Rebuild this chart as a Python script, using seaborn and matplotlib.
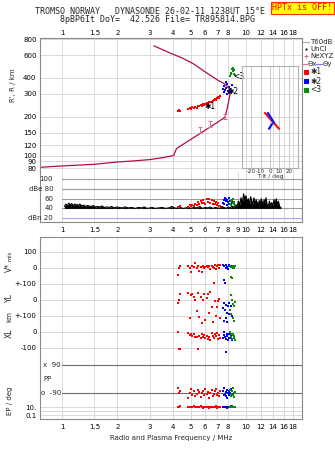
import matplotlib
matplotlib.use("Agg")
import matplotlib.pyplot as plt
from matplotlib.lines import Line2D
import numpy as np
import pandas as pd
import seaborn as sns

# ---------------- header ----------------
title_line1 = "TROMSO NORWAY   DYNASONDE 26-02-11 1238UT 15°E"
title_line2 = "8pBP6It DoY=  42.526 File= TR895814.BPG"
warning_text = "HPTx is OFF!"

# ---------------- axes ticks ----------------
freq_ticks = [1, 1.5, 2, 3, 4, 5, 6, 7, 8, 10, 12, 14, 16, 18]
freq_ticks_mid = [1, 1.5, 2, 3, 4, 5, 6, 7, 8, 9, 10, 12, 14, 16, 18]
height_ticks = [80, 90, 100, 120, 150, 200, 300, 400, 600, 800]
db_ticks = [100, 80, 60, 40, 20]
db_labels = ["100", "dBe 80", "60", "40", "dBn 20"]
tilt_ticks = [-20, -10, 0, 10, 20]
band_tick_labels = ["100", "0", "+-100", "0", "+-100", "0", "-100", "10.", "0.1"]

# ---------------- electron density profile (plasma freq vs real height) ----------------
prof_f = [0.76, 1.0, 1.5, 2.0, 2.5, 3.0, 3.5, 4.05, 4.12, 4.2, 5.0, 6.0, 7.0, 7.69,
          7.95, 8.12, 8.2, 8.12, 7.69, 7.0, 6.0, 5.17, 4.5, 3.86, 3.41, 3.16]
prof_h = [81, 83, 85.5, 89, 91, 93, 96, 100, 107, 113.5, 133, 157, 181, 198,
          240, 280, 300, 328, 358, 385, 445, 515, 570, 624, 675, 709]
nexyz_f = [5.62, 6.37, 7.69]
nexyz_h = [158, 175, 201]

# ---------------- tilt inset ----------------
tilt_x_deg = [-5.4, 9.7]
tilt_x_h = [209, 157]
tilt_y_deg = [-2.2, 4.3]
tilt_y_h = [209, 175]
tilt_y2_deg = [-1.1, 2.2]
tilt_y2_h = [157, 171]

# ---------------- noise / echo amplitude trace ----------------
noise_f = [1.03, 1.05, 1.07, 1.09, 1.11, 1.13, 1.15, 1.17, 1.19, 1.21,
           1.23, 1.25, 1.28, 1.31, 1.34, 1.37, 1.40, 1.44, 1.48, 1.52,
           1.56, 1.60, 1.65, 1.70, 1.75, 1.80, 1.86, 1.92, 1.98, 2.05,
           2.12, 2.20, 2.30, 2.40, 2.50, 2.60, 2.70, 2.80, 2.90, 3.00,
           3.10, 3.20, 3.35, 3.50, 3.65, 3.80, 3.95, 4.10, 4.25, 4.40,
           4.55, 4.70, 4.85, 5.00, 5.20, 5.40, 5.60, 5.80, 6.00, 6.20,
           6.40, 6.60, 6.80, 7.00, 7.20, 7.40, 7.60, 7.80, 8.00, 8.20,
           8.40, 8.60, 8.80, 8.95, 9.10, 9.25, 9.40, 9.55, 9.70, 9.85,
           10.0, 10.15, 10.3, 10.45, 10.6, 10.75, 10.9, 11.05, 11.2, 11.35,
           11.5, 11.65, 11.8, 11.95, 12.1, 12.25, 12.4, 12.55, 12.7, 12.85,
           13.0, 13.2, 13.4, 13.6, 13.8, 14.0, 14.2, 14.4, 14.6, 14.8,
           15.0, 15.2, 15.5]
noise_db = [44, 49, 46, 51, 47, 50, 45, 49, 47, 48,
            46, 49, 45, 47, 44, 46, 45, 44, 46, 43,
            44, 43, 45, 42, 43, 42, 44, 41, 43, 42,
            41, 43, 41, 42, 40, 42, 41, 43, 40, 41,
            42, 40, 41, 42, 40, 41, 44, 41, 40, 42,
            40, 41, 43, 40, 42, 41, 44, 40, 42, 41,
            43, 40, 42, 41, 40, 44, 42, 40, 43, 41,
            45, 42, 48, 44, 55, 47, 62, 50, 70, 58,
            66, 52, 60, 48, 64, 55, 50, 62, 47, 58,
            52, 45, 56, 49, 60, 53, 46, 58, 50, 62,
            48, 44, 55, 47, 52, 45, 58, 48, 60, 46,
            55, 44, 42]

# ---------------- echo clusters ----------------
c1_f = [4.25, 4.30, 4.38, 4.85, 4.95, 5.05, 5.12, 5.20, 5.30, 5.40,
        5.50, 5.58, 5.66, 5.75, 5.85, 5.93, 6.02, 6.11, 6.20, 6.30,
        6.40, 6.50, 6.60, 6.70, 6.80, 6.90, 7.00, 7.08, 7.15, 7.22]
c1_h = [221, 224, 222, 230, 233, 229, 236, 232, 238, 235,
        243, 240, 246, 242, 250, 247, 252, 256, 250, 259,
        262, 258, 266, 270, 274, 268, 280, 284, 278, 290]
c1_db = [42, 43, 44, 43, 46, 44, 48, 45, 50, 47,
         53, 50, 55, 51, 57, 52, 49, 59, 54, 60,
         52, 57, 50, 55, 49, 53, 47, 51, 45, 44]
c1_v = [-42, 0, 12, 14, 0, -22, 12, 4, 33, 0,
        14, -20, 4, -22, 10, 0, 6, 12, 4, 12,
        -8, 14, 8, 2, 18, -4, 12, 20, 0, 16]
c1_yl = [-18, 0, 37, 45, -110, 31, 38, 17, 0, -67,
         42, -104, 19, -146, 0, 35, -125, 13, 38, -80,
         52, -42, -140, 104, -8, -100, -42, -8, 6, -110]
c1_xl = [2, -106, -106, -6, -19, -12, -25, -15, -30, -30,
         -106, -25, -40, -10, -30, -20, -35, -25, -45, -30,
         -50, -5, -25, -40, -12, -28, -8, -45, -20, -35]
c1_pp = [-60, -90, -75, -120, -88, -65, -100, -80, -110, -95,
         -70, -85, -115, -92, -78, -105, -62, -98, -84, -120,
         -90, -72, -108, -94, -80, -66, -102, -88, -112, -76]
c1_ep = [12, 10, 14, 11, 9, 13, 10, 15, 8, 12,
         11, 9, 14, 10, 7, 12, 11, 9, 13, 6,
         10, 12, 8, 11, 9, 14, 7, 10, 12, 8]

c2_f = [7.52, 7.58, 7.63, 7.68, 7.74, 7.80, 7.86, 7.92, 7.98, 8.04, 8.10, 8.18, 8.28, 8.40]
c2_h = [330, 312, 345, 322, 370, 336, 302, 360, 318, 342, 306, 330, 312, 352]
c2_db = [52, 58, 50, 62, 55, 60, 48, 57, 53, 61, 50, 56, 49, 54]
c2_v = [20, -75, 14, -96, 2, 16, 4, 8, -4, 18, 10, 12, 6, 14]
c2_yl = [-50, -20, -130, -65, -30, -110, -80, -140, -40, -20, -85, -60, -35, -100]
c2_xl = [-40, -20, 0, -30, -45, -125, -25, -10, -50, -35, -15, -40, -28, -50]
c2_pp = [-80, -100, -60, -95, -110, -85, -70, -120, -90, -75, -105, -88, -65, -98]
c2_ep = [10, 12, 8, 11, 9, 13, 10, 7, 12, 11, 9, 10, 14, 8]

c3_f = [8.22, 8.28, 8.34, 8.40, 8.46, 8.52, 8.58, 8.64, 8.70]
c3_h = [410, 440, 425, 470, 450, 480, 430, 460, 420]
c3_db = [50, 56, 47, 58, 52, 60, 49, 54, 46]
c3_v = [12, -54, 4, -65, 14, 0, 8, -2, 10]
c3_yl = [-60, 30, -90, 0, -25, -110, -40, -130, -15]
c3_xl = [0, -15, -30, -45, -20, -10, -38, -25, -50]
c3_pp = [-70, -95, -110, -80, -100, -60, -90, -115, -85]
c3_ep = [9, 12, 10, 14, 8, 11, 13, 10, 12]

cluster_names = ["\u27311", "\u27312", "<3"]
cluster_colors = ["#ff0000", "#0000ff", "#0a8a0a"]

clusters = []
for f, h, db, v, yl, xl, pp, ep in [
        (c1_f, c1_h, c1_db, c1_v, c1_yl, c1_xl, c1_pp, c1_ep),
        (c2_f, c2_h, c2_db, c2_v, c2_yl, c2_xl, c2_pp, c2_ep),
        (c3_f, c3_h, c3_db, c3_v, c3_yl, c3_xl, c3_pp, c3_ep)]:
    clusters.append(pd.DataFrame(dict(f=f, h=h, db=db, v=v, yl=yl, xl=xl, pp=pp, ep=ep)))

# ---------------- styling ----------------
sns.set_theme(style="white")
plt.rcParams["font.family"] = ["DejaVu Sans"]

W, H = 335, 451
fig = plt.figure(figsize=(W / 100, H / 100), dpi=100)
fig.patch.set_facecolor("white")

FRAME = "#8a8a8a"
GRID = "#d9d9d9"
PROFILE = "#b0103e"
PINK = "#e8709a"
F_LO, F_HI = 0.7593, 20.16
TS = 5


def rect(x0, y0, x1, y1):
    return [x0 / W, 1 - y1 / H, (x1 - x0) / W, (y1 - y0) / H]


def fpt(x, y):
    return x / W, 1 - y / H


def style_frame(ax, hide=()):
    for name, sp in ax.spines.items():
        sp.set_color(FRAME)
        sp.set_linewidth(0.8)
        sp.set_visible(name not in hide)
    ax.set_facecolor("none")
    ax.tick_params(length=0, labelsize=TS, colors="black")


def freq_axis(ax, ticks):
    ax.set_xscale("log")
    ax.set_xlim(F_LO, F_HI)
    ax.set_xticks(ticks)
    ax.set_xticklabels([("%g" % t) for t in ticks])
    ax.minorticks_off()


# ================= top panel: virtual / real heights =================
ax_h = fig.add_axes(rect(40, 38, 302, 172))
style_frame(ax_h, hide=("bottom",))
freq_axis(ax_h, freq_ticks)
ax_h.set_yscale("log")
ax_h.set_ylim(74.5, 815)
ax_h.set_yticks(height_ticks)
ax_h.set_yticklabels([str(v) for v in height_ticks])
ax_h.minorticks_off()
ax_h.xaxis.tick_top()
ax_h.tick_params(axis="x", pad=1.5)
ax_h.tick_params(axis="y", pad=2.5)
ax_h.grid(True, color=GRID, lw=0.7)
ax_h.set_axisbelow(True)
ax_h.set_xlabel("")
ax_h.set_ylabel("")

sns.lineplot(x=prof_f, y=prof_h, sort=False, estimator=None, color=PROFILE,
             lw=0.9, ax=ax_h)
nexyz_err = [[h * 0.05 for h in nexyz_h], [h * 0.05 for h in nexyz_h]]
ax_h.errorbar(nexyz_f, nexyz_h, yerr=nexyz_err, fmt="none", ecolor=PINK,
              elinewidth=0.8, capsize=1.5, capthick=0.8)
for df, col in zip(clusters, cluster_colors):
    sns.scatterplot(data=df, x="f", y="h", color=col, marker="s", s=4,
                    linewidth=0, ax=ax_h, legend=False)
ax_h.set_xlabel("")
ax_h.set_ylabel("")
label_pos = [(5.98, 241), (7.9, 314), (8.5, 410)]
for (lx, ly), name in zip(label_pos, cluster_names):
    ax_h.text(lx, ly, name, fontsize=5.5, ha="left", va="center", color="black")

fig.text(*fpt(13, 85), "R', R / km", rotation=90, ha="center", va="center", fontsize=TS)

# ---- tilt inset ----
ax_t = fig.add_axes(rect(242, 66, 298, 168))
for sp in ax_t.spines.values():
    sp.set_color("#b0b0b0")
    sp.set_linewidth(0.8)
ax_t.set_facecolor("none")
ax_t.set_xlim(-30, 30)
ax_t.set_yscale("log")
ax_t.set_ylim(77.1, 490)
ax_t.set_xticks(tilt_ticks)
ax_t.set_xticklabels([str(t) for t in tilt_ticks])
ax_t.set_yticks([])
ax_t.minorticks_off()
ax_t.tick_params(length=0, labelsize=4, pad=0.5)
ax_t.grid(axis="x", color="#c8c8c8", lw=0.7)
sns.lineplot(x=tilt_x_deg, y=tilt_x_h, sort=False, estimator=None,
             color="#ff1010", lw=1.6, ax=ax_t)
sns.lineplot(x=tilt_y_deg, y=tilt_y_h, sort=False, estimator=None,
             color="#1010ff", lw=1.6, ax=ax_t)
sns.lineplot(x=tilt_y2_deg, y=tilt_y2_h, sort=False, estimator=None,
             color="#1010ff", lw=1.6, ax=ax_t)
ax_t.set_ylabel("")
ax_t.set_xlabel("Tilt / deg", fontsize=4.3, labelpad=0)

# ---- legend column ----
def leg_line(x0, x1, y, color):
    fig.add_artist(Line2D([x0 / W, x1 / W], [1 - y / H, 1 - y / H], color=color, lw=0.9))


def leg_mark(x, y, marker, color, ms):
    fig.add_artist(Line2D([x / W], [1 - y / H], marker=marker, color=color,
                          ms=ms, mew=0.8, lw=0))


leg_line(303, 309, 42, "#b0b0b0")
fig.text(*fpt(310, 42), "T60dB", fontsize=TS, va="center")
leg_mark(306, 49, ".", "black", 1.5)
fig.text(*fpt(310, 49), "UnCl", fontsize=TS, va="center")
leg_mark(306, 56, "+", PINK, 3.5)
fig.text(*fpt(310, 56), "NeXYZ", fontsize=TS, va="center")
leg_line(302, 307, 64, PINK)
fig.text(*fpt(307.5, 64), "\u0398x", fontsize=TS, va="center")
leg_line(316, 322, 64, "#7070ff")
fig.text(*fpt(322.5, 64), "\u0398y", fontsize=TS, va="center")
for i, (name, col) in enumerate(zip(cluster_names, cluster_colors)):
    yy = 72 + 9 * i
    leg_mark(306, yy, "s", col, 2.2)
    fig.text(*fpt(310, yy), name, fontsize=5.5, va="center")

# ================= middle panel: amplitudes =================
ax_a = fig.add_axes(rect(40, 172, 302, 222))
style_frame(ax_a, hide=("top",))
freq_axis(ax_a, freq_ticks_mid)
ax_a.set_ylim(12.1, 114.8)
ax_a.set_yticks([])
ax_a.tick_params(axis="x", pad=3.5)
ax_a.grid(axis="x", color=GRID, lw=0.7)
ax_a.set_axisbelow(True)
for v, lab in zip(db_ticks, db_labels):
    ax_a.plot([1.0, F_HI], [v, v], color=("#a8a8f0" if v == 20 else "#9c9c9c"),
              lw=0.8, zorder=1)
    ax_a.text(0.895, v, lab, ha="right", va="center", fontsize=TS)
ax_a.fill_between(noise_f, 40, noise_db, color="black", lw=0, zorder=2)
sns.lineplot(x=noise_f, y=noise_db, sort=False, estimator=None, color="black",
             lw=0.8, ax=ax_a, zorder=2)
for df, col in zip(clusters, cluster_colors):
    sns.scatterplot(data=df, x="f", y="db", color=col, marker="s", s=4,
                    linewidth=0, ax=ax_a, legend=False, zorder=3)
ax_a.set_xlabel("")
ax_a.set_ylabel("")

# ================= lower panel: velocities, locations, polarisation =================
BAND_V, BAND_YL, BAND_XL = 9.4375, 7.4375, 5.4375
PP_MID, PP_HALF = 2.5, 0.875


def pp_pos(pp):
    return PP_MID + np.asarray(pp, float) / 90.0 * PP_HALF


def ep_pos(ep):
    return 0.25 + (np.log10(np.asarray(ep, float)) + 1) * 0.25


ax_l = fig.add_axes(rect(40, 237, 302, 419))
style_frame(ax_l)
freq_axis(ax_l, freq_ticks)
ax_l.set_ylim(0, 11.375)
band_ticks = [BAND_V + 1, BAND_V, BAND_V - 1, BAND_YL, BAND_YL - 1,
              BAND_XL, BAND_XL - 1, 0.75, 0.25]
ax_l.set_yticks(band_ticks)
ax_l.set_yticklabels(band_tick_labels)
ax_l.tick_params(axis="x", pad=3.5)
ax_l.tick_params(axis="y", pad=2.5)
ax_l.grid(True, color=GRID, lw=0.7)
ax_l.set_axisbelow(True)
ax_l.axhline(0.5, color=GRID, lw=0.7, zorder=0)
for yv, lab in [(pp_pos(90), "x  90"), (pp_pos(-90), "o  -90")]:
    ax_l.plot([1.0, F_HI], [yv, yv], color="#6e6e6e", lw=0.8, zorder=1)
    ax_l.text(0.985, yv, lab, ha="right", va="center", fontsize=TS)
ax_l.text(0.788, PP_MID, "PP", ha="left", va="center", fontsize=TS)

for df, col in zip(clusters, cluster_colors):
    long = pd.concat([
        pd.DataFrame(dict(f=df.f, y=BAND_V + df.v / 100.0)),
        pd.DataFrame(dict(f=df.f, y=BAND_YL + df.yl / 100.0)),
        pd.DataFrame(dict(f=df.f, y=BAND_XL + df.xl / 100.0)),
        pd.DataFrame(dict(f=df.f, y=pp_pos(df.pp))),
        pd.DataFrame(dict(f=df.f, y=ep_pos(df.ep))),
    ], ignore_index=True)
    sns.scatterplot(data=long, x="f", y="y", color=col, marker="s", s=3.5,
                    linewidth=0, ax=ax_l, legend=False, zorder=3)
ax_l.set_xlabel("")
ax_l.set_ylabel("")

fig.text(*fpt(171, 438), "Radio and Plasma Frequency / MHz", ha="center",
         va="center", fontsize=TS)
fig.text(*fpt(9, 267), "V*", rotation=90, ha="center", va="center", fontsize=5.5)
fig.text(*fpt(9, 256), "m/s", rotation=90, ha="center", va="center", fontsize=4)
fig.text(*fpt(9, 298), "YL", rotation=90, ha="center", va="center", fontsize=5.5)
fig.text(*fpt(9, 317), "km", rotation=90, ha="center", va="center", fontsize=TS)
fig.text(*fpt(9, 333), "XL", rotation=90, ha="center", va="center", fontsize=5.5)
fig.text(*fpt(10, 401), "EP / deg", rotation=90, ha="center", va="center", fontsize=TS)

# ================= header =================
fig.text(*fpt(150, 12), title_line1, ha="center", va="center",
         family="DejaVu Sans Mono", fontsize=6)
fig.text(*fpt(157, 20), title_line2, ha="center", va="center",
         family="DejaVu Sans Mono", fontsize=6)
fig.text(*fpt(302.5, 8), warning_text, ha="center", va="center",
         family="DejaVu Sans Mono", fontsize=6, color="#ff0000",
         bbox=dict(facecolor="#ffff00", edgecolor="#ff3000", lw=0.8,
                   boxstyle="square,pad=0.2"))

fig.savefig("out.png", dpi=100, facecolor="white")
